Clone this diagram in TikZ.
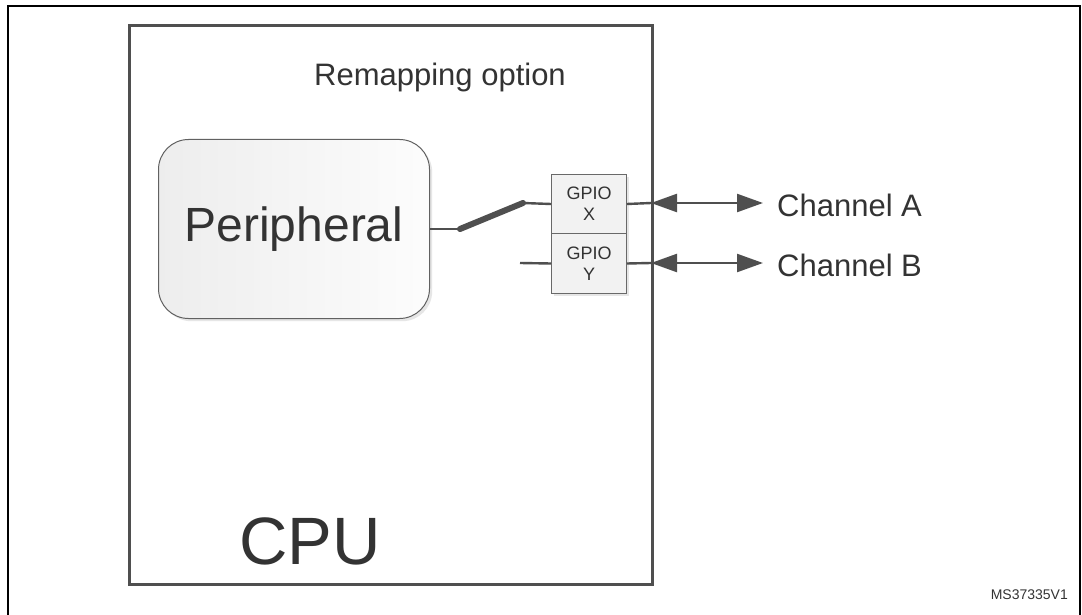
\documentclass[tikz,border=0pt]{standalone}
\usepackage{fontspec}
\setmainfont{Liberation Sans}
\usetikzlibrary{arrows.meta}
\definecolor{txt}{HTML}{333333}
\definecolor{ln}{HTML}{4F4F4F}
\definecolor{shd}{HTML}{E6E6E6}
\tikzset{
  wire/.style={draw=ln, line width=2.4pt},
  cpubox/.style={draw=ln, line width=2.6pt, anchor=north west, inner sep=0pt},
  peribox/.style={draw=ln!90, line width=1pt, rounded corners=30pt, left color=black!7, right color=black!1, anchor=north west, inner sep=0pt},
  gpiobox/.style={draw=ln!85, line width=1pt, fill=black!5, anchor=north west, inner sep=0pt, align=center, font=\fontsize{18}{21}\selectfont, text=txt},
  shadowbox/.style={fill=shd, draw=none, anchor=north west, inner sep=0pt},
  lbl/.style={text=txt, inner sep=0pt},
  darrow/.style={draw=ln, line width=2.4pt, {Triangle[length=26pt,width=18pt]}-{Triangle[length=26pt,width=18pt]}},
}
\begin{document}
\begin{tikzpicture}[x=1pt,y=-1pt]
\useasboundingbox (0,0) rectangle (1082,615);
% outer frame
\draw[black, line width=2.2pt] (8,620) -- (8,6) -- (1080,6) -- (1080,620);
% CPU box with shadow
\node[shadowbox, minimum width=523pt, minimum height=559pt] (cpush) at (131,27) {};
\node[cpubox, fill=white, minimum width=523pt, minimum height=559pt] (cpu) at (128,24) {};
\node[lbl, font=\fontsize{31}{36}\selectfont] (remap) at (440,77) {Remapping option};
\node[lbl, font=\fontsize{67}{76}\selectfont, anchor=base] (cpulbl) at (310,564) {CPU};
% Peripheral
\node[shadowbox, rounded corners=30pt, minimum width=271pt, minimum height=179pt] (perish) at (161,142) {};
\node[peribox, minimum width=271pt, minimum height=179pt] (peri) at (158,139) {};
\node[lbl, font=\fontsize{48}{54}\selectfont] (perilbl) at (peri.center) {Peripheral};
% GPIO boxes
\node[shadowbox, minimum width=75pt, minimum height=119pt] (gpsh) at (554,177) {};
\node[gpiobox, minimum width=75pt, minimum height=59pt] (gpiox) at (551,174) {GPIO\\X};
\node[gpiobox, minimum width=75pt, minimum height=60pt] (gpioy) at (551,233) {GPIO\\Y};
% switch
\coordinate (s1) at (460,229);
\coordinate (s2) at (523,203);
\coordinate (yin) at (520,263);
\draw[wire] (peri.east) -- (s1);
\draw[draw=ln, line width=6pt, line cap=round] (s1) -- (s2);
\draw[wire] (s2) -- (gpiox.west);
\draw[wire] (yin) -- (gpioy.west);
% outputs
\coordinate (ax) at (651,203);
\coordinate (ay) at (651,263);
\coordinate (ae) at (763,203);
\coordinate (be) at (763,263);
\draw[wire] (gpiox.east) -- (ax);
\draw[wire] (gpioy.east) -- (ay);
\draw[darrow] (ax) -- (ae);
\draw[darrow] (ay) -- (be);
\node[lbl, anchor=west, font=\fontsize{31}{36}\selectfont] (cha) at (777,205) {Channel A};
\node[lbl, anchor=west, font=\fontsize{31}{36}\selectfont] (chb) at (777,265) {Channel B};
\node[lbl, anchor=east, font=\fontsize{14}{16}\selectfont] (ms) at (1068,595) {MS37335V1};
\end{tikzpicture}
\end{document}
